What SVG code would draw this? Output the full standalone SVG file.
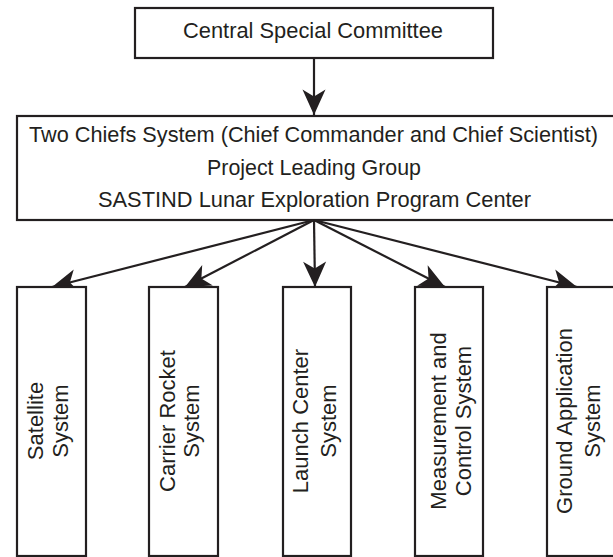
<svg xmlns="http://www.w3.org/2000/svg" width="613" height="557" viewBox="0 0 613 557">
<style>
.box{fill:#fff;stroke:#231f20;stroke-width:2.2}
.t{font-family:"Liberation Sans",Arial,Helvetica,sans-serif;font-size:22px;fill:#231f20;text-anchor:middle}
.v{font-family:"Liberation Sans",Arial,Helvetica,sans-serif;font-size:22px;fill:#231f20;text-anchor:middle}
.c{stroke:#231f20;stroke-width:2.2;fill:none;marker-end:url(#ah)}
</style>
<defs>
<marker id="ah" markerUnits="userSpaceOnUse" markerWidth="30" markerHeight="30" viewBox="-24 -12 26 24" refX="0" refY="0" orient="auto">
<path d="M0,0 L-22,-10 L-16,0 L-22,10 Z" fill="#231f20"/>
</marker>
</defs>
<rect width="613" height="557" fill="#fff"/>
<g id="connectors">
<line class="c" x1="314" y1="58" x2="314" y2="115"/>
<line class="c" x1="314" y1="220" x2="52" y2="287"/>
<line class="c" x1="314" y1="220" x2="185" y2="287"/>
<line class="c" x1="314" y1="220" x2="315" y2="287"/>
<line class="c" x1="314" y1="220" x2="445" y2="287"/>
<line class="c" x1="314" y1="220" x2="577" y2="287"/>
</g>
<g id="central">
<rect class="box" x="135" y="8" width="358" height="50"/>
<text class="t" x="313" y="38" textLength="260" lengthAdjust="spacingAndGlyphs">Central Special Committee</text>
</g>
<g id="leading">
<rect class="box" x="17" y="116" width="600" height="104"/>
<text class="t" x="313.5" y="142" textLength="569" lengthAdjust="spacingAndGlyphs">Two Chiefs System (Chief Commander and Chief Scientist)</text>
<text class="t" x="314" y="175" textLength="214" lengthAdjust="spacingAndGlyphs">Project Leading Group</text>
<text class="t" x="314.5" y="207" textLength="433" lengthAdjust="spacingAndGlyphs">SASTIND Lunar Exploration Program Center</text>
</g>
<g id="satellite">
<rect class="box" x="17" y="287" width="69" height="269"/>
<text class="v" transform="translate(0,421) rotate(-90)"><tspan x="0" y="43">Satellite</tspan><tspan x="0" y="68">System</tspan></text>
</g>
<g id="rocket">
<rect class="box" x="149" y="287" width="69" height="269"/>
<text class="v" transform="translate(0,421) rotate(-90)"><tspan x="0" y="175">Carrier Rocket</tspan><tspan x="0" y="199">System</tspan></text>
</g>
<g id="launch">
<rect class="box" x="283" y="287" width="68" height="269"/>
<text class="v" transform="translate(0,421) rotate(-90)"><tspan x="0" y="308">Launch Center</tspan><tspan x="0" y="336">System</tspan></text>
</g>
<g id="measurement">
<rect class="box" x="415" y="287" width="68" height="269"/>
<text class="v" transform="translate(0,421) rotate(-90)"><tspan x="0" y="446">Measurement and</tspan><tspan x="0" y="471">Control System</tspan></text>
</g>
<g id="ground">
<rect class="box" x="547" y="287" width="70" height="269"/>
<text class="v" transform="translate(0,421) rotate(-90)"><tspan x="0" y="572">Ground Application</tspan><tspan x="0" y="600">System</tspan></text>
</g>
</svg>
